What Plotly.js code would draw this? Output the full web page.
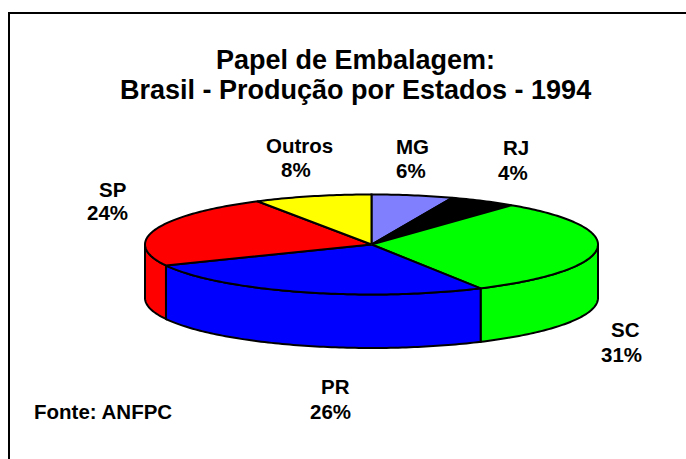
<!DOCTYPE html>
<html>
<head>
<meta charset="utf-8">
<script src="https://cdn.plot.ly/plotly-3.0.1.min.js"></script>
<style>html,body{margin:0;padding:0;background:#fff}#chart{width:686px;height:459px}</style>
</head>
<body>
<div id="chart"></div>
<script>
var titleLine1 = 'Papel de Embalagem:';
var titleLine2 = 'Brasil - Produção por Estados - 1994';
var sourceText = 'Fonte: ANFPC';
var states = ['MG', 'RJ', 'SC', 'PR', 'SP', 'Outros'];
var percentLabels = ['6%', '4%', '31%', '26%', '24%', '8%'];
var sliceShares = [5.8, 4.8, 31.4, 26.1, 23.5, 8.4];
var sliceColors = ['#8080FF', '#000000', '#00FF00', '#0000FF', '#FF0000', '#FFFF00'];
var nameAnchorX = [412, 516, 625, 335, 112, 299];
var nameAnchorY = [146, 147, 329, 386, 189, 145];
var pctAnchorX = [410.5, 513, 621.5, 330.5, 107.5, 295.5];
var pctAnchorY = [170, 172, 354, 411, 212, 169];

var cx = 371.5, cy = 244.5, rx = 226.5, ry = 50, depth = 53.5;
var lineColor = '#000000', lineWidth = 2;

function pt(frac, dy) {
  var a = frac * 2 * Math.PI;
  return [cx + rx * Math.sin(a), cy - ry * Math.cos(a) + dy];
}
function arc(f0, f1, dy) {
  var out = [], n = Math.max(2, Math.ceil(Math.abs(f1 - f0) * 360));
  for (var i = 0; i <= n; i++) out.push(pt(f0 + (f1 - f0) * i / n, dy));
  return out;
}
function poly(points, color) {
  return {
    type: 'scatter', mode: 'lines', fill: 'toself', fillcolor: color,
    x: points.map(function (p) { return p[0]; }),
    y: points.map(function (p) { return p[1]; }),
    line: { color: lineColor, width: lineWidth, simplify: false },
    hoverinfo: 'skip', showlegend: false
  };
}

var total = sliceShares.reduce(function (a, b) { return a + b; }, 0);
var walls = [], tops = [], run = 0;
sliceShares.forEach(function (v, i) {
  var f0 = run / total, f1 = (run + v) / total;
  run += v;
  tops.push(poly([[cx, cy]].concat(arc(f0, f1, 0)).concat([[cx, cy]]), sliceColors[i]));
  var w0 = Math.max(f0, 0.25), w1 = Math.min(f1, 0.75);
  if (w1 > w0) {
    var pts = arc(w0, w1, 0).concat(arc(w1, w0, depth));
    pts.push(pts[0]);
    walls.push(poly(pts, sliceColors[i]));
  }
});

var fontFamily = 'Liberation Sans, Arial, sans-serif';
var labelFont = { family: fontFamily, size: 20.5, color: '#000000' };
var annotations = [];
function addText(text, x, y) {
  annotations.push({ text: '<b>' + text + '</b>', x: x, y: y, xref: 'x', yref: 'y',
    xanchor: 'center', yanchor: 'middle', showarrow: false, font: labelFont });
}
states.forEach(function (s, i) {
  addText(s, nameAnchorX[i], nameAnchorY[i]);
  addText(percentLabels[i], pctAnchorX[i], pctAnchorY[i]);
});
addText(sourceText, 103, 411);
annotations.push({ text: '<b>' + titleLine2 + '</b>', x: 355.5, y: 90, xref: 'x', yref: 'y',
  xanchor: 'center', yanchor: 'middle', showarrow: false,
  font: { family: fontFamily, size: 27, color: '#000000' } });

Plotly.newPlot('chart', walls.concat(tops), {
  width: 686, height: 459,
  margin: { l: 0, r: 0, t: 0, b: 0 },
  paper_bgcolor: '#ffffff', plot_bgcolor: '#ffffff',
  showlegend: false,
  title: {
    text: '<b>' + titleLine1 + '</b>',
    x: 355.5 / 686, xanchor: 'center', xref: 'paper',
    y: 1 - 60 / 459, yanchor: 'middle', yref: 'container',
    font: { family: fontFamily, size: 27, color: '#000000' }
  },
  xaxis: { range: [0, 686], visible: false, fixedrange: true },
  yaxis: { range: [459, 0], visible: false, fixedrange: true },
  annotations: annotations,
  shapes: [
    { type: 'line', xref: 'paper', yref: 'paper', x0: 9 / 686, x1: 1, y0: 1 - 13 / 459, y1: 1 - 13 / 459,
      line: { color: '#000000', width: 2 } },
    { type: 'line', xref: 'paper', yref: 'paper', x0: 9 / 686, x1: 9 / 686, y0: 1 - 12 / 459, y1: 0,
      line: { color: '#000000', width: 2 } }
  ]
}, { displayModeBar: false, staticPlot: true });
</script>
</body>
</html>
